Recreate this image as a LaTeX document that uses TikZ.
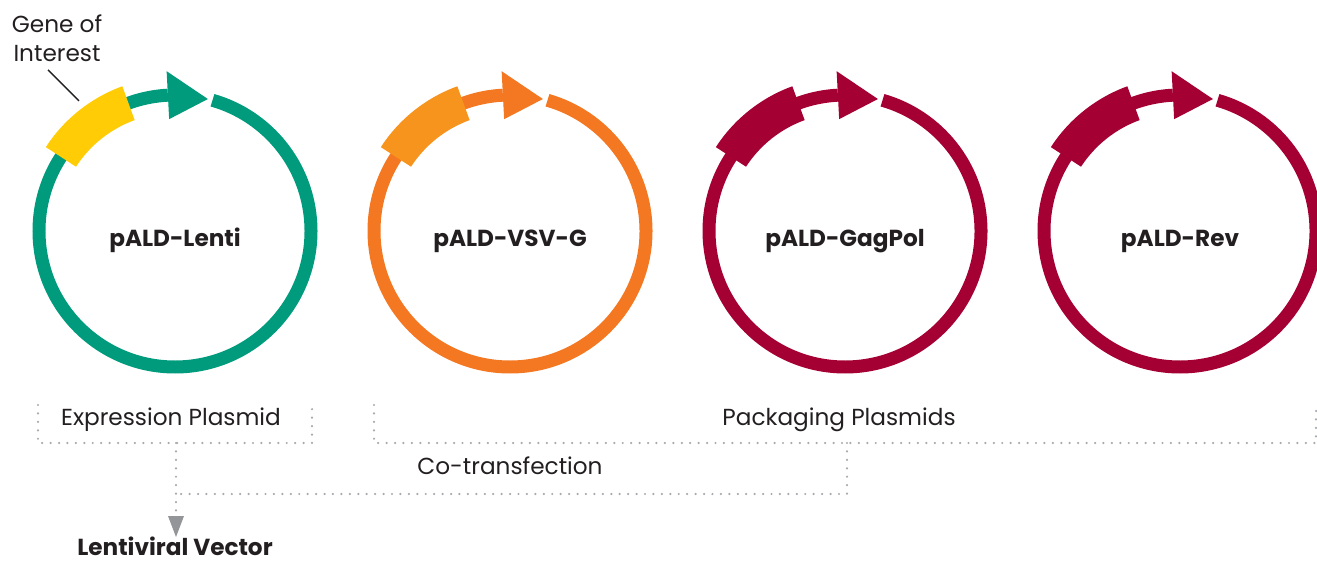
\documentclass[tikz,border=0pt]{standalone}
\usepackage{fontspec}
\setmainfont{Poppins}
\usetikzlibrary{calc,arrows.meta}

\definecolor{ringteal}{HTML}{009B7D}
\definecolor{goiyellow}{HTML}{FFCC05}
\definecolor{ringorange}{HTML}{F47721}
\definecolor{boxorange}{HTML}{F7941E}
\definecolor{ringred}{HTML}{A50034}
\definecolor{dotgray}{HTML}{A7A9AC}
\definecolor{tipgray}{HTML}{939598}
\definecolor{inkgray}{HTML}{231F20}

\tikzset{
	ring/.style={line width=0.26cm},
	dotline/.style={draw=dotgray, line width=1.4pt, dash pattern=on 0pt off 4.8pt, line cap=round},
	plabel/.style={text=inkgray, font=\fontsize{13.2}{15}\selectfont\bfseries, anchor=base},
	tlabel/.style={text=inkgray, font=\fontsize{13.2}{17}\selectfont, anchor=base, align=center},
}

\begin{document}
\begin{tikzpicture}[x=0.02cm,y=0.02cm]
	\useasboundingbox (0,0) rectangle (1317,561);
	\clip (0,0) rectangle (1317,561);
	% plasmids
	\foreach \n/\cx/\rc/\bc/\txt in {lenti/175/ringteal/goiyellow/pALD-Lenti,vsvg/510/ringorange/boxorange/pALD-VSV-G,gagpol/845/ringred/ringred/pALD-GagPol,rev/1180/ringred/ringred/pALD-Rev}{
			\coordinate (c-\n) at (\cx,330);
			\draw [ring,\rc] (c-\n) ++(93:136) arc[start angle=93,end angle=434,radius=136];
			\fill [\bc] (c-\n) ++(110:118) arc[start angle=110,end angle=147,radius=118] -- ++(147:36) arc[start angle=147,end angle=110,radius=154] -- cycle;
			\fill [\rc] ($(c-\n)+(93:112)$) -- ($(c-\n)+(93:160)$) -- ($(c-\n)+(76:136)$) -- cycle;
			\node [plabel] (l-\n) at (\cx,314) {\txt};
		}
	% gene of interest
	\node [tlabel] (goi) at (57,499) {Gene of\\Interest};
	\coordinate (goi-a) at (48,491);
	\coordinate (goi-b) at (79,460);
	\draw [inkgray,line width=0.8pt] (goi-a) -- (goi-b);
	% brackets
	\node [tlabel] (expr) at (171,135) {Expression Plasmid};
	\node [tlabel] (pack) at (839,135) {Packaging Plasmids};
	\node [tlabel] (cotr) at (510,87) {Co-transfection};
	\node [plabel,inner sep=0pt] (lv) at (175,6) {Lentiviral Vector};
	\coordinate (expr-l) at (38,156);
	\coordinate (expr-r) at (312,156);
	\coordinate (pack-l) at (374,156);
	\coordinate (pack-r) at (1316,156);
	\coordinate (expr-m) at (176,118);
	\coordinate (pack-m) at (847,118);
	\coordinate (join) at (176,67);
	\coordinate (lv-tip) at (176,24);
	\draw [dotline] (expr-l) |- (expr-m) -| (expr-r);
	\draw [dotline] (pack-l) |- (pack-m) -| (pack-r);
	\draw [dotline] (pack-m) |- (join);
	\draw [dotline] (expr-m) -- ($(lv-tip)+(0,22)$);
	\fill [tipgray] (lv-tip) -- ++(-8,21) -- ++(16,0) -- cycle;
\end{tikzpicture}
\end{document}
